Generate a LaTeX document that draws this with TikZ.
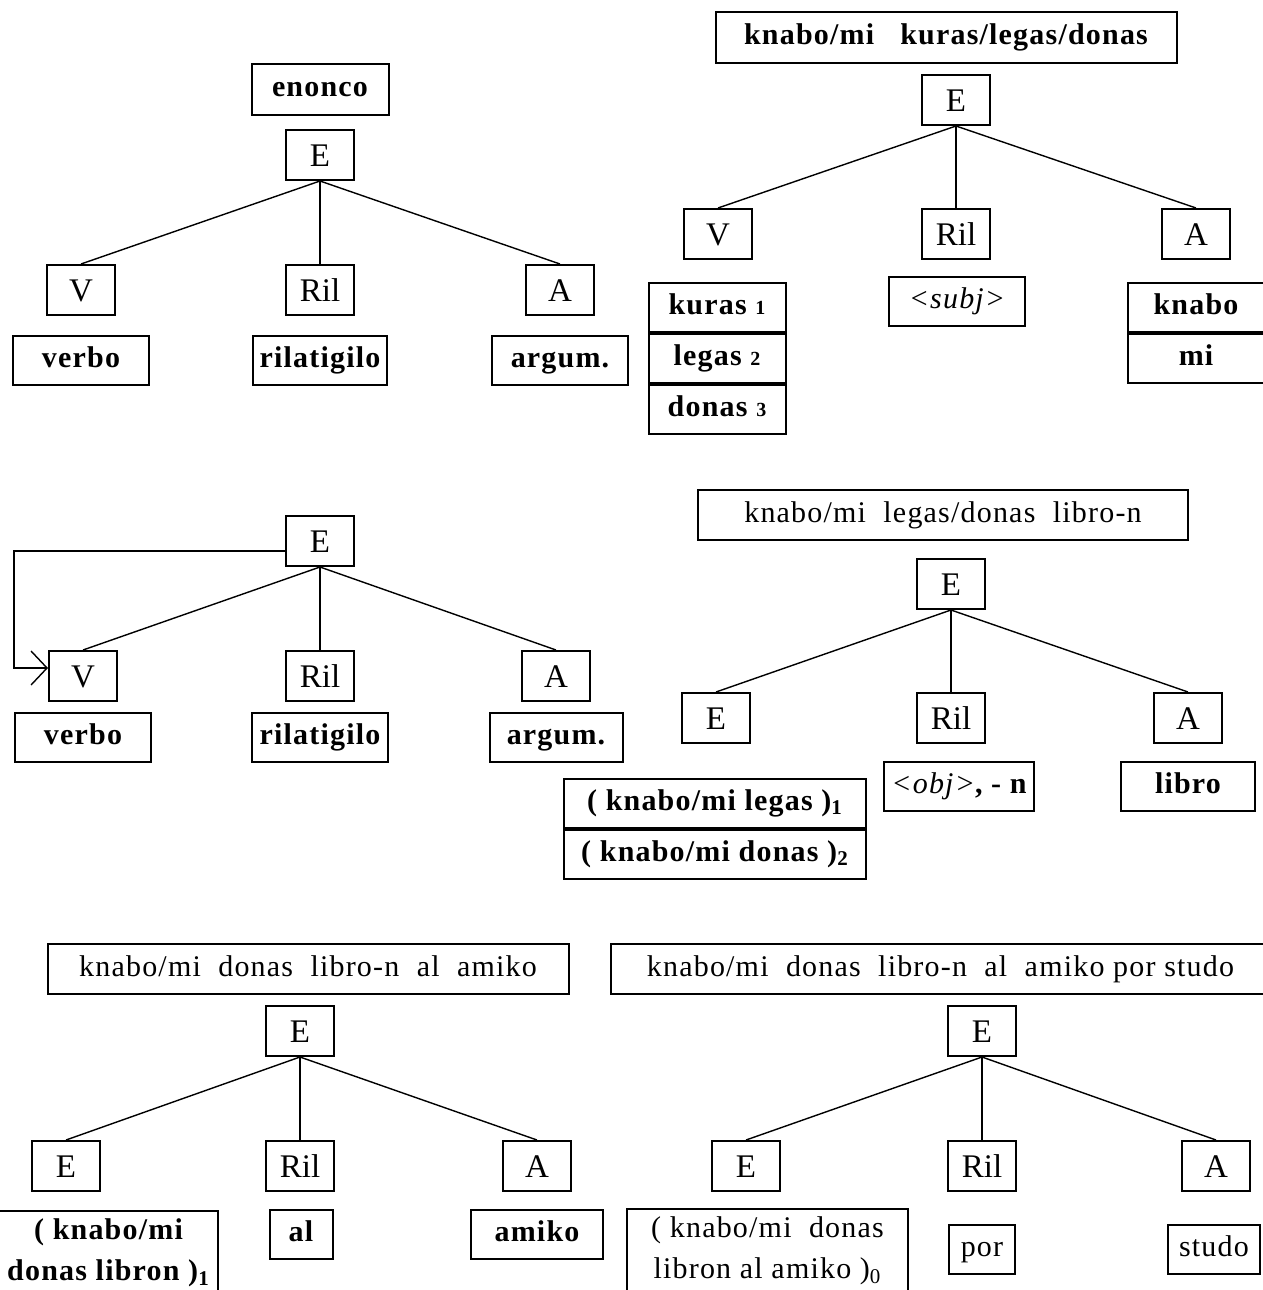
\documentclass[tikz,border=0pt]{standalone}
\usepackage{fontspec}
\setmainfont{Liberation Serif}
\newfontfamily\wordfont{Liberation Serif}[LetterSpace=4]
\usetikzlibrary{positioning,arrows.meta}
\newcommand{\catsize}{\fontsize{16.5}{18}\selectfont}
\newcommand{\wordsize}{\wordfont\fontsize{15}{20.5}\selectfont}
\newcommand{\idx}[1]{{\fontsize{10}{10}\selectfont #1}}

\begin{document}
\begin{tikzpicture}[x=0.5pt, y=-0.5pt, node distance=9.5pt,
    every node/.style={inner sep=0pt},
    box/.style={draw, line width=1pt},
    cat/.style={box, minimum width=34pt, minimum height=25pt, text height=11pt, text depth=0pt, font=\catsize},
    word/.style={box, minimum width=68pt, minimum height=24.5pt, text height=10.5pt, text depth=3.5pt, font=\wordsize\bfseries},
    plain/.style={word, font=\wordsize},
    twoline/.style={box, align=center, anchor=north west, minimum height=42pt},
    branch/.style={line width=0.7pt}
    ]
\useasboundingbox (0,0) rectangle (1263,1290);
% \draw[help lines] (0,0) grid[step=50] (1263,1290);

% tree 1
\node[word, minimum width=68.5pt, minimum height=25.5pt] (t1) at (320,89) {enonco};
\node[cat] (e1) at (320,155) {E};
\node[cat] (v1) at (81,290) {V};
\node[cat] (ril1) at (320,290) {Ril};
\node[cat] (a1) at (560,290) {A};
\node[word] (v1w) [below=of v1] {verbo};
\node[word, minimum width=67pt] (ril1w) [below=of ril1] {rilatigilo};
\node[word] (a1w) [below=of a1] {argum.};

% tree 2
\node[word, minimum width=230.5pt, minimum height=25.5pt] (t2) at (946,37) {knabo/mi\ \ \ kuras/legas/donas};
\node[cat] (e2) at (956,100) {E};
\node[cat] (v2) at (718,234) {V};
\node[cat] (ril2) at (956,234) {Ril};
\node[cat] (a2) at (1196,234) {A};
\node[word, minimum width=68.5pt] (ku2) at (717,307) {kuras \idx{1}};
\node[word, minimum width=68.5pt] (le2) [below=0pt of ku2] {legas \idx{2}};
\node[word, minimum width=68.5pt] (do2) [below=0pt of le2] {donas \idx{3}};
\node[word] (ril2w) at (957,301) {{\mdseries\itshape <subj>}};
\node[word] (kn2) at (1196,307) {knabo};
\node[word] (mi2) [below=0pt of kn2] {mi};

% tree 3
\node[cat] (e3) at (320,541) {E};
\node[cat] (v3) at (83,676) {V};
\node[cat] (ril3) at (320,676) {Ril};
\node[cat] (a3) at (556,676) {A};
\node[word] (v3w) [below=5pt of v3] {verbo};
\node[word] (ril3w) [below=5pt of ril3] {rilatigilo};
\node[word, minimum width=66.5pt] (a3w) [below=5pt of a3] {argum.};
\draw[branch, -{Straight Barb[length=8pt, width=17pt]}]
  ([yshift=-5pt]e3.west) -- ++(-271,0) |- ([yshift=4pt]v3.west);

% tree 4
\node[plain, minimum width=245pt, minimum height=25pt] (t4) at (943,515) {knabo/mi\ \ legas/donas\ \ libro-n};
\node[cat] (e4) at (951,584) {E};
\node[cat] (ee4) at (716,718) {E};
\node[cat] (ril4) at (951,718) {Ril};
\node[cat] (a4) at (1188,718) {A};
\node[word, minimum width=151pt] (le4) at (715,803) {( knabo/mi legas )\textsubscript{1}};
\node[word, minimum width=151pt] (do4) [below=0pt of le4] {( knabo/mi donas )\textsubscript{2}};
\node[word, minimum width=75pt] (ril4w) at (959,786) {{\mdseries\itshape <obj>}, - n};
\node[word, minimum width=67pt] (a4w) at (1188,786) {libro};

% tree 5
\node[plain, minimum width=260.5pt, minimum height=25pt] (t5) at (308,969) {knabo/mi\ \ donas\ \ libro-n\ \ al\ \ amiko};
\node[cat] (e5) at (300,1031) {E};
\node[cat] (ee5) at (66,1166) {E};
\node[cat] (ril5) at (300,1166) {Ril};
\node[cat] (a5) at (537,1166) {A};
\node[twoline, minimum width=109.5pt, font=\wordsize\bfseries] (ee5w) at (-2,1210)
  {( knabo/mi\\donas libron )\textsubscript{1}};
\node[word, minimum width=31.5pt] (ril5w) at (301,1234) {al};
\node[word, minimum width=66pt] (a5w) at (537,1234) {amiko};

% tree 6
\node[plain, minimum width=329.5pt, minimum height=25pt] (t6) at (940.5,969) {knabo/mi\ \ donas\ \ libro-n\ \ al\ \ amiko por studo};
\node[cat] (e6) at (982,1031) {E};
\node[cat] (ee6) at (746,1166) {E};
\node[cat] (ril6) at (982,1166) {Ril};
\node[cat] (a6) at (1216,1166) {A};
\node[twoline, minimum width=140.5pt, font=\wordsize] (ee6w) at (626,1208)
  {( knabo/mi\ \ donas\\libron al amiko )\textsubscript{0}};
\node[plain, minimum width=33pt] (ril6w) at (982,1249) {por};
\node[plain, minimum width=46pt] (a6w) at (1214,1249) {studo};

\foreach \t/\f in {1/v1,2/v2,3/v3,4/ee4,5/ee5,6/ee6}
  \foreach \c in {\f,ril\t,a\t}
    \draw[branch] (e\t.south) -- (\c.north);
\end{tikzpicture}
\end{document}
